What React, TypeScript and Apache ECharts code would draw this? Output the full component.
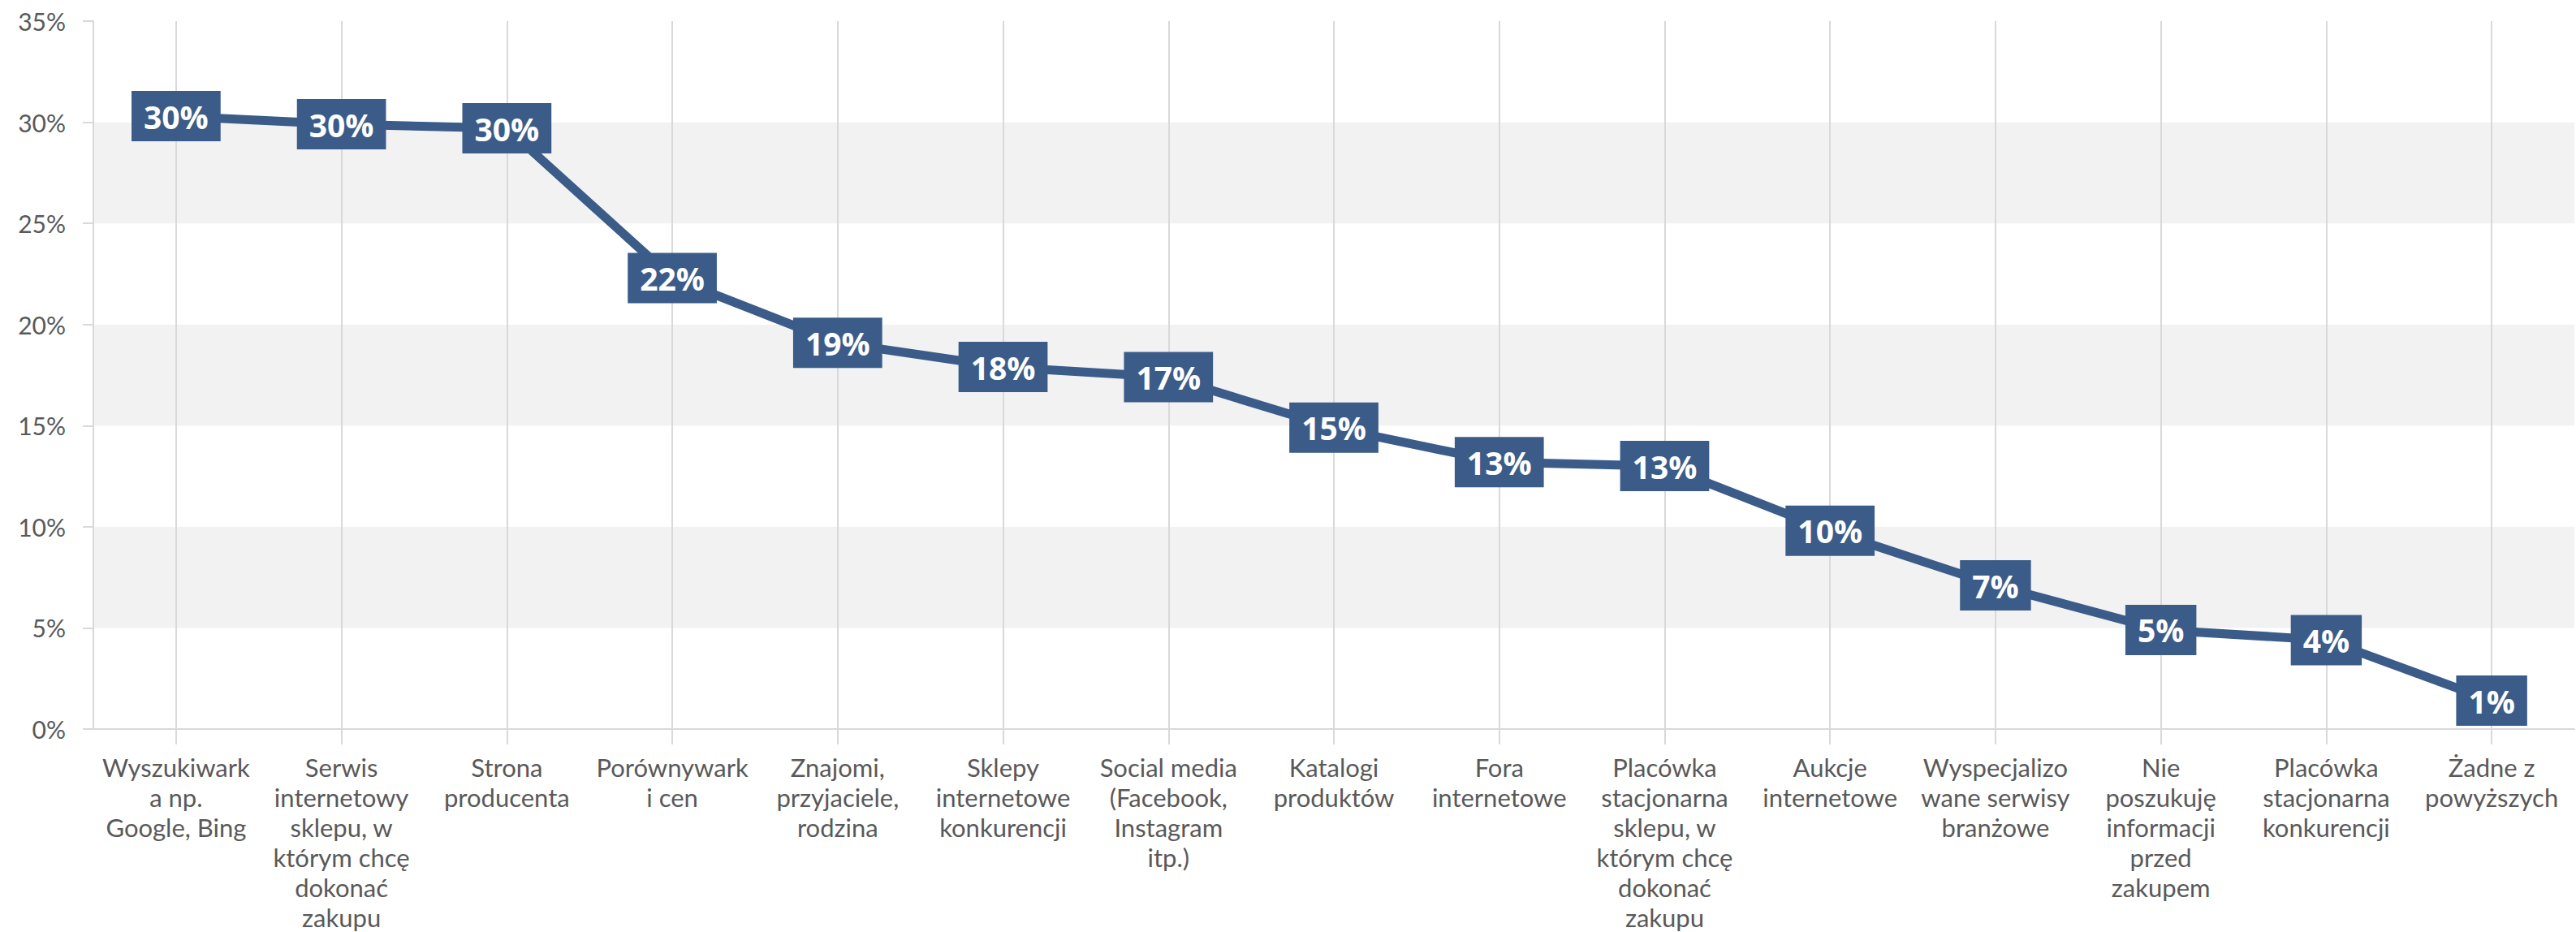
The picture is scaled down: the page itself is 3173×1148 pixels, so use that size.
import React, { useEffect, useRef } from "react";
import * as echarts from "echarts";

const categories = [
  "Wyszukiwark\na np.\nGoogle, Bing",
  "Serwis\ninternetowy\nsklepu, w\nktórym chcę\ndokonać\nzakupu",
  "Strona\nproducenta",
  "Porównywark\ni cen",
  "Znajomi,\nprzyjaciele,\nrodzina",
  "Sklepy\ninternetowe\nkonkurencji",
  "Social media\n(Facebook,\nInstagram\nitp.)",
  "Katalogi\nproduktów",
  "Fora\ninternetowe",
  "Placówka\nstacjonarna\nsklepu, w\nktórym chcę\ndokonać\nzakupu",
  "Aukcje\ninternetowe",
  "Wyspecjalizo\nwane serwisy\nbranżowe",
  "Nie\nposzukuję\ninformacji\nprzed\nzakupem",
  "Placówka\nstacjonarna\nkonkurencji",
  "Żadne z\npowyższych",
];

const values = [30.3, 29.9, 29.7, 22.3, 19.1, 17.9, 17.4, 14.9, 13.2, 13.0, 9.8, 7.1, 4.9, 4.4, 1.4];

const yTicks = { min: 0, max: 35, interval: 5 };

const MAIN = "#3b5c89";
const GRIDC = "#d9d9d9";
const TEXTC = "#595959";
const LABEL_FONT = "Lato";

export default function App() {
  const ref = useRef<HTMLDivElement>(null);
  useEffect(() => {
    if (!ref.current) return;
    const chart = echarts.init(ref.current, null, { renderer: "svg" });
    chart.setOption({
      animation: false,
      backgroundColor: "#ffffff",
      grid: { left: 115, right: 2, top: 26, bottom: 250, containLabel: false },
      xAxis: {
        type: "category",
        data: categories,
        boundaryGap: true,
        axisLine: { show: true, lineStyle: { color: GRIDC, width: 2 } },
        axisTick: { show: true, alignWithLabel: true, length: 19, lineStyle: { color: GRIDC, width: 2 } },
        splitLine: { show: true, alignWithLabel: true, lineStyle: { color: GRIDC, width: 2 } },
        axisLabel: {
          interval: 0,
          color: TEXTC,
          fontFamily: LABEL_FONT,
          fontSize: 31,
          lineHeight: 37,
          margin: 28,
          align: "center",
        },
      },
      yAxis: {
        type: "value",
        min: yTicks.min,
        max: yTicks.max,
        interval: yTicks.interval,
        axisLine: { show: true, lineStyle: { color: GRIDC, width: 2 } },
        axisTick: { show: true, length: 13, lineStyle: { color: GRIDC, width: 2 } },
        splitLine: { show: false },
        splitArea: { show: true, areaStyle: { color: ["#ffffff", "#f2f2f2"] } },
        axisLabel: {
          formatter: "{value}%",
          color: TEXTC,
          fontFamily: LABEL_FONT,
          fontSize: 30,
          margin: 34,
        },
      },
      series: [
        {
          type: "line",
          data: values,
          symbol: "circle",
          symbolSize: 2,
          itemStyle: { color: MAIN },
          lineStyle: { color: MAIN, width: 11 },
          label: {
            show: true,
            position: "inside",
            formatter: (p: any) => Math.round(p.value) + "%",
            backgroundColor: MAIN,
            color: "#ffffff",
            fontFamily: "Open Sans",
            fontWeight: "bold",
            fontSize: 39,
            lineHeight: 46,
            padding: [8, 15],
          },
        },
      ],
    });
    return () => chart.dispose();
  }, []);
  return (
    <div
      ref={ref}
      style={{ position: "fixed", left: 0, top: 0, width: 3173, height: 1148 }}
    />
  );
}
